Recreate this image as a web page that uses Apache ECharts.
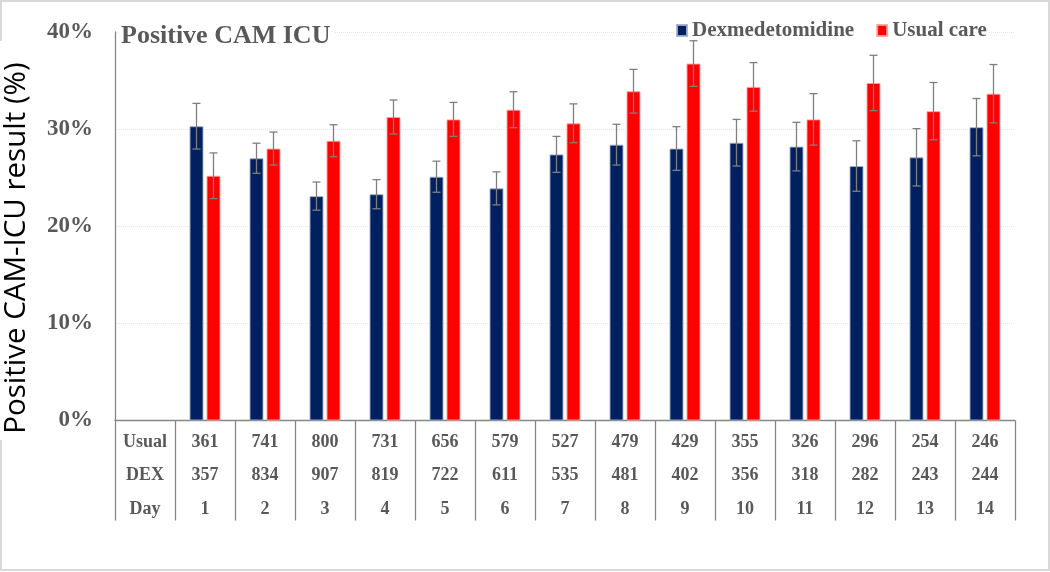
<!DOCTYPE html>
<html>
<head>
<meta charset="utf-8">
<script src="https://cdn.jsdelivr.net/npm/echarts@6/dist/echarts.min.js"></script>
<style>html,body{margin:0;padding:0;background:#fff}#c{width:1050px;height:572px}</style>
</head>
<body>
<div id="c"></div>
<script>
const days = ['1','2','3','4','5','6','7','8','9','10','11','12','13','14'];
const dexValues = [30.3, 27.0, 23.1, 23.3, 25.1, 23.9, 27.4, 28.4, 28.0, 28.6, 28.2, 26.2, 27.1, 30.2];
const dexErr = [2.35, 1.55, 1.45, 1.5, 1.6, 1.7, 1.85, 2.1, 2.25, 2.4, 2.5, 2.6, 2.95, 2.95];
const usualValues = [25.2, 28.0, 28.8, 31.25, 31.0, 32.0, 30.6, 33.9, 36.75, 34.35, 31.0, 34.75, 31.85, 33.65];
const usualErr = [2.35, 1.7, 1.65, 1.75, 1.75, 1.85, 2.0, 2.25, 2.35, 2.5, 2.65, 2.85, 2.95, 3.0];
const usualN = [361, 741, 800, 731, 656, 579, 527, 479, 429, 355, 326, 296, 254, 246];
const dexN = [357, 834, 907, 819, 722, 611, 535, 481, 402, 356, 318, 282, 243, 244];
const rowLabels = ['Usual', 'DEX', 'Day'];
const yTicks = [0, 10, 20, 30, 40];

const categories = [''].concat(days);
const dexData = [null].concat(dexValues);
const usualData = [null].concat(usualValues);
const dexErrData = dexValues.map((v, i) => [i + 1, v - dexErr[i], v + dexErr[i]]);
const usualErrData = usualValues.map((v, i) => [i + 1, v - usualErr[i], v + usualErr[i]]);

const serif = '"Liberation Serif", "Times New Roman", serif';
const gray = '#595959';
const BAR_W = 14, BAR_GAP = 3;

function errRender(offset) {
  return function (params, api) {
    const x = api.coord([api.value(0), 0])[0] + offset;
    const lo = api.coord([api.value(0), api.value(1)])[1];
    const hi = api.coord([api.value(0), api.value(2)])[1];
    const st = { stroke: '#7f7f7f', lineWidth: 1.3 };
    return {
      type: 'group',
      children: [
        { type: 'line', shape: { x1: x, y1: lo, x2: x, y2: hi }, style: st },
        { type: 'line', shape: { x1: x - 4, y1: hi, x2: x + 4, y2: hi }, style: st },
        { type: 'line', shape: { x1: x - 4, y1: lo, x2: x + 4, y2: lo }, style: st }
      ]
    };
  };
}

const chart = echarts.init(document.getElementById('c'), null, { renderer: 'canvas' });
chart.setOption({
  animation: false,
  backgroundColor: '#fff',
  grid: { left: 115, right: 35, top: 32, bottom: 151.5, containLabel: false },
  legend: {
    left: 674, top: 20, padding: [0, 2, 0, 2],
    backgroundColor: '#fff',
    itemWidth: 10, itemHeight: 11, itemGap: 22,
    icon: 'rect',
    textStyle: { fontFamily: serif, fontWeight: 'bold', fontSize: 21, color: gray },
    data: ['Dexmedetomidine', 'Usual care']
  },
  xAxis: {
    type: 'category',
    data: categories,
    boundaryGap: true,
    axisLine: { show: true, lineStyle: { color: '#868686', width: 1.3 } },
    axisTick: { show: true, interval: 0, length: 100, lineStyle: { color: '#868686', width: 1.3 } },
    axisLabel: {
      interval: 0, margin: 5, lineHeight: 33.5,
      fontFamily: serif, fontWeight: 'bold', fontSize: 18, color: gray,
      formatter: function (val, idx) {
        if (idx === 0) return rowLabels.join('\n');
        return usualN[idx - 1] + '\n' + dexN[idx - 1] + '\n' + val;
      }
    },
    splitLine: { show: false }
  },
  yAxis: {
    type: 'value', min: yTicks[0], max: yTicks[yTicks.length - 1], interval: 10,
    axisLine: { show: true, lineStyle: { color: '#868686', width: 1.3 } },
    axisTick: { show: false },
    axisLabel: { margin: 22, fontFamily: serif, fontWeight: 'bold', fontSize: 23, color: gray, formatter: '{value}%' },
    splitLine: { show: true, lineStyle: { color: '#e6e6e6', type: 'dotted', width: 1 } }
  },
  series: [
    { name: 'Dexmedetomidine', type: 'bar', data: dexData, barWidth: BAR_W, barGap: (BAR_GAP / BAR_W * 100) + '%',
      itemStyle: { color: '#002060', borderColor: 'rgba(160,175,205,0.9)', borderWidth: 1 } },
    { name: 'Usual care', type: 'bar', data: usualData, barWidth: BAR_W,
      itemStyle: { color: '#ff0000', borderColor: 'rgba(255,160,160,0.9)', borderWidth: 1 } },
    { name: 'dexErr', type: 'custom', data: dexErrData, encode: { x: 0, y: [1, 2] },
      renderItem: errRender(-(BAR_W + BAR_GAP) / 2), z: 5, silent: true },
    { name: 'usualErr', type: 'custom', data: usualErrData, encode: { x: 0, y: [1, 2] },
      renderItem: errRender((BAR_W + BAR_GAP) / 2), z: 5, silent: true }
  ],
  graphic: [
    { type: 'polyline', silent: true, z: 0,
      shape: { points: [[1, 41], [1, 1], [1049, 1], [1049, 570], [1, 570], [1, 440]] },
      style: { stroke: '#d9d9d9', lineWidth: 2, fill: null } },
    { type: 'text', left: 119, top: 21, silent: true, z: 10,
      style: { text: 'Positive CAM ICU', fontFamily: serif, fontWeight: 'bold', fontSize: 26, fill: gray,
        backgroundColor: '#fff', padding: [2, 4, 0, 2] } },
    { type: 'text', x: 17, y: 248, rotation: Math.PI / 2, silent: true,
      style: { text: 'Positive CAM-ICU result (%)', fontFamily: '"Open Sans", sans-serif', fontSize: 29.5, fill: '#000',
        align: 'center', verticalAlign: 'middle' } }
  ]
});
</script>
</body>
</html>
